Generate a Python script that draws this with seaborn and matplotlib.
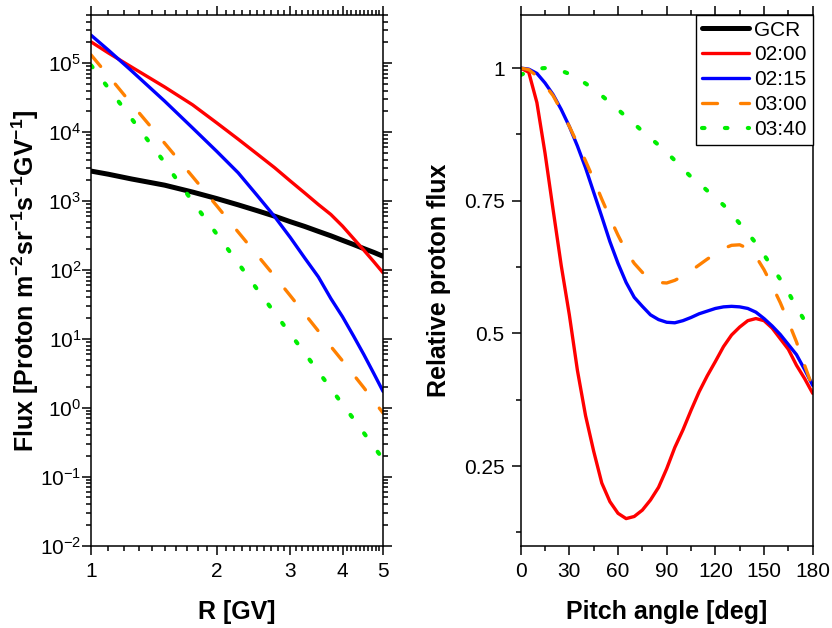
import numpy as np
import pandas as pd
import matplotlib
matplotlib.use('Agg')
import matplotlib.pyplot as plt
import seaborn as sns
from matplotlib.ticker import (FixedLocator, FuncFormatter, NullFormatter,
                               LogLocator, MultipleLocator)

# Left panel: rigidity spectra
rigidity = [1, 1.1, 1.25, 1.5, 1.75, 2, 2.25, 2.5, 2.75, 3, 3.25, 3.5, 3.75,
            4, 4.25, 4.5, 4.75, 5]
flux_gcr = [2720, 2450, 2090, 1700, 1350, 1085, 881, 724, 603, 501, 427, 363, 313,
            269, 234, 204, 180, 158]
flux_0200 = [2.04e5, 1.41e5, 8.8e4, 4.52e4, 2.49e4, 1.36e4, 7.9e3, 4.8e3, 3.05e3,
             1950, 1303, 891, 638, 432, 285, 193, 132, 91]
flux_0215 = [2.55e5, 1.55e5, 7.76e4, 2.82e4, 1.15e4, 5.25e3, 2.57e3, 1.2e3, 596,
             295, 148, 79.4, 38.5, 20.9, 11.0, 5.89, 3.16, 1.73]
flux_0300 = [1.32e5, 6.6e4, 2.57e4, 6.92e3, 2.26e3, 851, 355, 164, 81.3, 42.2,
             22.9, 13.0, 7.76, 4.79, 3.02, 1.95, 1.26, 0.84]
flux_0340 = [9.33e4, 4.37e4, 1.57e4, 3.63e3, 984, 331, 126, 52.1, 24.0, 11.8,
             6.17, 3.35, 1.91, 1.12, 0.69, 0.43, 0.275, 0.18]

# Right panel: pitch angle distributions
pitch = list(range(0, 181, 5))
pad_0200 = [1.0, 0.992, 0.935, 0.84, 0.733, 0.628, 0.535, 0.43, 0.345, 0.278, 0.218,
            0.183, 0.161, 0.151, 0.155, 0.167, 0.186, 0.21, 0.245, 0.285, 0.318,
            0.355, 0.39, 0.42, 0.447, 0.475, 0.497, 0.512, 0.524, 0.528, 0.524,
            0.51, 0.49, 0.47, 0.44, 0.415, 0.387]
pad_0215 = [1.0, 0.998, 0.99, 0.972, 0.95, 0.922, 0.89, 0.853, 0.812, 0.766, 0.72,
            0.673, 0.632, 0.596, 0.568, 0.551, 0.535, 0.526, 0.521, 0.52, 0.524,
            0.53, 0.537, 0.542, 0.547, 0.55, 0.551, 0.55, 0.547, 0.54, 0.528,
            0.514, 0.498, 0.479, 0.46, 0.432, 0.402]
pad_0300 = [1.0, 0.997, 0.985, 0.968, 0.948, 0.92, 0.89, 0.858, 0.825, 0.79, 0.753,
            0.718, 0.685, 0.655, 0.632, 0.615, 0.603, 0.596, 0.595, 0.6, 0.608,
            0.618, 0.629, 0.64, 0.65, 0.66, 0.666, 0.667, 0.66, 0.645, 0.62,
            0.59, 0.558, 0.522, 0.484, 0.44, 0.398]
pad_0340 = [0.987, 0.994, 0.999, 1.0, 0.998, 0.995, 0.989, 0.98, 0.971, 0.96, 0.948,
            0.935, 0.922, 0.908, 0.895, 0.881, 0.868, 0.855, 0.841, 0.826, 0.81,
            0.795, 0.783, 0.769, 0.755, 0.742, 0.725, 0.707, 0.689, 0.67, 0.648,
            0.625, 0.602, 0.577, 0.55, 0.524, 0.497]

sns.set_style('ticks')
plt.rcParams['font.family'] = ['Liberation Sans', 'DejaVu Sans']
plt.rcParams.update({
    'mathtext.fontset': 'custom',
    'mathtext.rm': 'Liberation Sans',
    'mathtext.bf': 'Liberation Sans:bold',
    'axes.edgecolor': 'black',
    'axes.labelcolor': 'black',
    'text.color': 'black',
    'xtick.color': 'black',
    'ytick.color': 'black',
    'axes.linewidth': 1.1,
})

styles = {
    'GCR':   dict(color='black', lw=3.6, linestyle='-'),
    '02:00': dict(color='#ff0000', lw=2.4, linestyle='-'),
    '02:15': dict(color='#0000ff', lw=2.4, linestyle='-'),
    '03:00': dict(color='#ff8000', lw=2.4, linestyle=(0, (4.5, 6.9)), dash_capstyle='round'),
    '03:40': dict(color='#00ee00', lw=3.0, linestyle=(0, (0.6, 4.9)), dash_capstyle='round'),
}

fig = plt.figure(figsize=(8.32, 6.28), dpi=100)
ax1 = fig.add_axes([0.1094, 0.1311, 0.351, 0.845])
ax2 = fig.add_axes([0.6258, 0.1311, 0.351, 0.845])

# --- left panel ---
for name, vals in [('GCR', flux_gcr), ('02:00', flux_0200), ('02:15', flux_0215),
                   ('03:00', flux_0300), ('03:40', flux_0340)]:
    df = pd.DataFrame({'R': rigidity, 'flux': vals})
    sns.lineplot(data=df, x='R', y='flux', ax=ax1, label=name, **styles[name])

ax1.set_xscale('log')
ax1.set_yscale('log')
ax1.set_xlim(1, 5)
ax1.set_ylim(1e-2, 5e5)
ax1.xaxis.set_major_locator(FixedLocator([1, 2, 3, 4, 5]))
ax1.xaxis.set_major_formatter(FuncFormatter(lambda v, p: f'{v:g}'))
ax1.xaxis.set_minor_locator(FixedLocator(np.arange(1.1, 5.0, 0.1)))
ax1.xaxis.set_minor_formatter(NullFormatter())
ax1.yaxis.set_major_locator(LogLocator(base=10, numticks=20))
ax1.yaxis.set_minor_locator(LogLocator(base=10, subs=np.arange(2, 10), numticks=20))
ax1.yaxis.set_minor_formatter(NullFormatter())
ax1.tick_params(which='both', direction='out', top=True, right=True, width=1.1)
ax1.tick_params(which='major', length=6.5)
ax1.tick_params(which='minor', length=3.5)
ax1.tick_params(axis='x', labelsize=15, pad=5)
ax1.tick_params(axis='y', labelsize=15, pad=0.5)
ax1.set_xlabel('R [GV]', fontsize=18, fontweight='bold', labelpad=14)
ax1.set_ylabel(r'Flux [Proton m$^{\mathbf{-2}}$sr$^{\mathbf{-1}}$s$^{\mathbf{-1}}$GV$^{\mathbf{-1}}$]',
               fontsize=18, fontweight='bold', labelpad=-1)
handles, labels = ax1.get_legend_handles_labels()
if ax1.get_legend() is not None:
    ax1.get_legend().remove()

# --- right panel ---
for name, vals in [('02:00', pad_0200), ('02:15', pad_0215),
                   ('03:00', pad_0300), ('03:40', pad_0340)]:
    df = pd.DataFrame({'pitch': pitch, 'rel': vals})
    sns.lineplot(data=df, x='pitch', y='rel', ax=ax2, **styles[name])

ax2.set_xlim(0, 180)
ax2.set_ylim(0.1, 1.1)
ax2.xaxis.set_major_locator(MultipleLocator(30))
ax2.xaxis.set_minor_locator(MultipleLocator(15))
ax2.yaxis.set_major_locator(MultipleLocator(0.25))
ax2.yaxis.set_minor_locator(MultipleLocator(0.125))
ax2.yaxis.set_major_formatter(FuncFormatter(lambda v, p: f'{v:g}'))
ax2.tick_params(which='both', direction='out', top=True, right=False, width=1.1)
ax2.tick_params(which='major', length=6.5)
ax2.tick_params(which='minor', length=3.5)
ax2.tick_params(axis='x', labelsize=15, pad=5)
ax2.tick_params(axis='y', labelsize=15, pad=5)
ax2.set_xlabel('Pitch angle [deg]', fontsize=18, fontweight='bold', labelpad=14)
ax2.set_ylabel('Relative proton flux', fontsize=18, fontweight='bold', labelpad=9)

leg = ax2.legend(handles, labels, loc='upper right', fontsize=15, frameon=True,
                 fancybox=False, framealpha=1, edgecolor='black', borderaxespad=0,
                 handlelength=2.3, handletextpad=0.24, borderpad=0.27, labelspacing=0.28)
leg.get_frame().set_linewidth(1.0)

fig.savefig('out.png', dpi=100)
